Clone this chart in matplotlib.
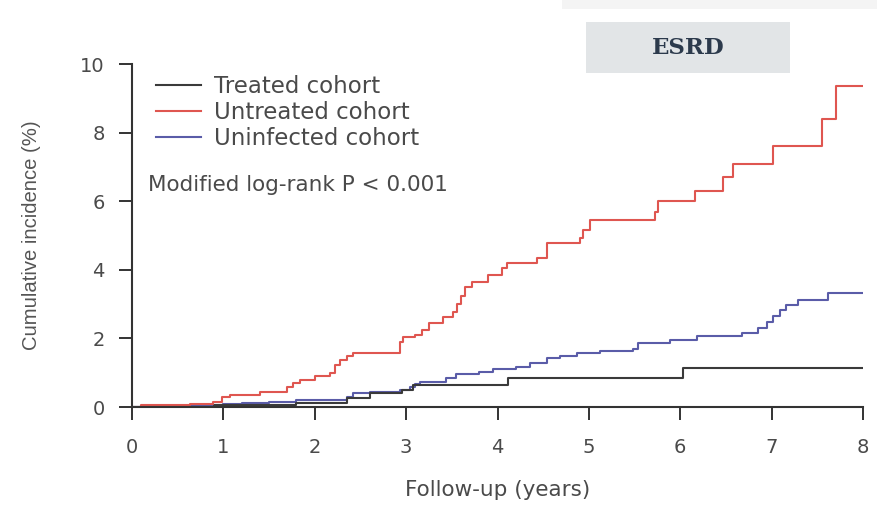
import matplotlib
matplotlib.use('Agg')
import matplotlib.pyplot as plt
from matplotlib.patches import Rectangle

# step curves: (time in years, cumulative incidence % after step)
treated_t = [0, 0.9, 1.8, 2.35, 2.6, 2.95, 3.08, 4.12, 6.03, 8.0]
treated_y = [0, 0.05, 0.12, 0.26, 0.4, 0.5, 0.64, 0.85, 1.13, 1.13]

untreated_t = [0, 0.1, 0.63, 0.89, 0.98, 1.07, 1.4, 1.7, 1.76, 1.84, 2.0, 2.17,
               2.22, 2.28, 2.35, 2.42, 2.93, 2.97, 3.1, 3.17, 3.25, 3.4, 3.51,
               3.56, 3.6, 3.64, 3.72, 3.9, 4.05, 4.1, 4.43, 4.54, 4.9, 4.94,
               5.01, 5.72, 5.76, 6.16, 6.47, 6.58, 7.01, 7.55, 7.7, 8.0]
untreated_y = [0, 0.05, 0.1, 0.15, 0.3, 0.35, 0.44, 0.58, 0.7, 0.78, 0.9, 1.0,
               1.22, 1.37, 1.49, 1.57, 1.9, 2.05, 2.1, 2.25, 2.45, 2.62, 2.77,
               3.0, 3.25, 3.5, 3.64, 3.85, 4.05, 4.2, 4.34, 4.78, 4.93, 5.16,
               5.45, 5.69, 6.0, 6.3, 6.7, 7.1, 7.6, 8.4, 9.35, 9.35]

uninfected_t = [0, 0.55, 0.75, 1.0, 1.2, 1.5, 1.8, 2.35, 2.42, 2.6, 2.93, 3.04,
                3.1, 3.15, 3.44, 3.55, 3.8, 3.95, 4.2, 4.36, 4.54, 4.68, 4.87,
                5.12, 5.48, 5.54, 5.89, 6.18, 6.68, 6.85, 6.95, 7.01, 7.09,
                7.16, 7.29, 7.62, 8.0]
uninfected_y = [0, 0.03, 0.07, 0.1, 0.13, 0.15, 0.2, 0.3, 0.4, 0.44, 0.5, 0.58,
                0.66, 0.73, 0.85, 0.96, 1.03, 1.1, 1.17, 1.28, 1.42, 1.5, 1.58,
                1.63, 1.68, 1.86, 1.95, 2.07, 2.15, 2.3, 2.48, 2.65, 2.83,
                2.97, 3.12, 3.32, 3.32]

x_ticks = [0, 1, 2, 3, 4, 5, 6, 7, 8]
y_ticks = [0, 2, 4, 6, 8, 10]

text_grey = '#4a4a4a'

fig = plt.figure(figsize=(8.78, 5.05), dpi=100)
ax = fig.add_axes([0.1503, 0.194, 0.8327, 0.679])

ax.step(uninfected_t, uninfected_y, where='post', color='#5a5ca8', lw=1.5, label='Uninfected cohort')
ax.step(treated_t, treated_y, where='post', color='#3a3a3a', lw=1.5, label='Treated cohort')
ax.step(untreated_t, untreated_y, where='post', color='#df5650', lw=1.5, label='Untreated cohort')

ax.set_xlim(0, 8)
ax.set_ylim(0, 10)
ax.set_xticks(x_ticks)
ax.set_yticks(y_ticks)
for s in ['top', 'right']:
    ax.spines[s].set_visible(False)
for s in ['left', 'bottom']:
    ax.spines[s].set_color('#333333')
    ax.spines[s].set_linewidth(1.5)
ax.tick_params(length=9.5, width=1.4, color='#333333', labelcolor=text_grey, labelsize=14)
ax.tick_params(axis='x', pad=13)
ax.tick_params(axis='y', pad=10)

ax.set_xlabel('Follow-up (years)', fontsize=15.5, color=text_grey, labelpad=16)
ax.set_ylabel('Cumulative incidence (%)', fontsize=14.6, color='#555555',
              family='Liberation Sans', labelpad=28)

# legend in original order
h, l = ax.get_legend_handles_labels()
order = [1, 2, 0]
ax.legend([h[i] for i in order], [l[i] for i in order], loc='upper left',
          bbox_to_anchor=(0.004, 1.028), frameon=False, handlelength=2.0,
          handletextpad=0.55, labelspacing=0.13, labelcolor=text_grey,
          prop={'family': 'DejaVu Sans', 'size': 16.5})

ax.text(0.022, 0.647, 'Modified log-rank P < 0.001', transform=ax.transAxes,
        fontsize=15.5, color=text_grey, va='center')

# header band and ESRD label box
fig.patches.append(Rectangle((0.64, 0.982), 0.36, 0.018, transform=fig.transFigure,
                             facecolor='#f4f4f4', edgecolor='none'))
fig.patches.append(Rectangle((586 / 878, 1 - 73 / 505), 204 / 878, 51 / 505,
                             transform=fig.transFigure, facecolor='#e2e5e7', edgecolor='none'))
fig.text(688 / 878, 1 - 48 / 505, 'ESRD', ha='center', va='center', fontsize=16.5,
         fontweight='bold', color='#2c3a4c', family='DejaVu Serif')

fig.savefig('out.png', dpi=100)
